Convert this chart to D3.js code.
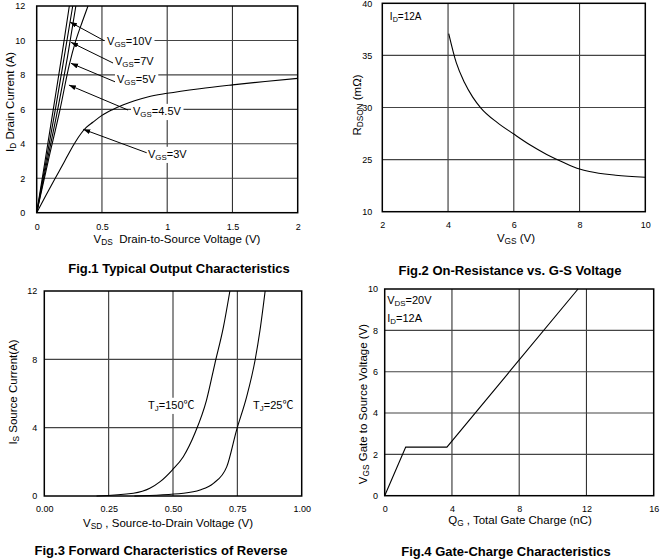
<!DOCTYPE html>
<html><head><meta charset="utf-8">
<script src="https://cdn.jsdelivr.net/npm/d3@7"></script>
<style>
body{margin:0;background:#fff}
svg{display:block}
text{font-family:"Liberation Sans",Arial,"Noto Sans CJK SC",sans-serif;fill:#000}
</style>
</head><body>
<svg id="c" width="666" height="560"></svg>
<script>
// ---------- Fig.1 data ----------
const fig1XTicks = [0, 0.5, 1, 1.5, 2];
const fig1XLabels = ["0", "0.5", "1", "1.5", "2"];
const fig1YTicks = [0, 2, 4, 6, 8, 10, 12];
const fig1Vgs10 = [[0,0],[0.064,3],[0.127,6],[0.19,9],[0.25,12]];
const fig1Vgs7  = [[0,0],[0.072,3],[0.143,6],[0.21,9],[0.276,12]];
const fig1Vgs5  = [[0,0],[0.08,3],[0.161,6],[0.235,9],[0.30,12]];
const fig1Vgs45 = [[0,0],[0.088,3],[0.179,6],[0.25,8.6],[0.30,10],[0.35,11.1],[0.393,12]];
const fig1Vgs3  = [[0,0],[0.07,1],[0.142,2],[0.215,3],[0.25,3.5],[0.30,4.15],[0.34,4.6],[0.38,4.95],[0.43,5.25],[0.5,5.65],[0.58,5.98],[0.66,6.25],[0.75,6.5],[0.85,6.72],[1.0,6.93],[1.25,7.2],[1.5,7.42],[1.75,7.62],[2.0,7.8]];
const fig1Names = ["10V", "7V", "5V", "4.5V", "3V"];
// annotation: arrow tip, arrow tail, text start (data units)
const fig1NoteTip  = [[0.255,11.07],[0.263,9.89],[0.263,8.67],[0.247,7.41],[0.357,4.84]];
const fig1NoteTail = [[0.516,9.99],[0.585,8.69],[0.60,7.6],[0.70,5.96],[0.843,3.48]];
const fig1NoteText = [[0.539,9.97],[0.60,8.82],[0.615,7.76],[0.738,5.9],[0.853,3.41]];

// ---------- Fig.2 data ----------
const fig2XTicks = [2, 4, 6, 8, 10];
const fig2YTicks = [20, 25, 30, 35, 40];
const fig2YLabels = ["10", "25", "30", "35", "40"];
const fig2Vgs  = [4.02, 4.25, 4.5, 4.75, 5.0, 5.5, 6.0, 6.5, 7.0, 7.5, 8.0, 8.3, 9.1, 10];
const fig2Rds  = [37.1, 34.3, 32.4, 31.0, 29.95, 28.55, 27.45, 26.4, 25.5, 24.75, 24.1, 23.85, 23.5, 23.3];

// ---------- Fig.3 data ----------
const fig3XTicks = [0, 0.25, 0.5, 0.75, 1];
const fig3XLabels = ["0.00", "0.25", "0.50", "0.75", "1.00"];
const fig3YTicks = [0, 4, 8, 12];
const fig3T150 = [[0.203,0],[0.346,0.16],[0.41,0.45],[0.45,0.84],[0.497,1.52],[0.54,2.3],[0.585,3.67],[0.63,5.6],[0.663,7.77],[0.696,9.9],[0.721,12]];
const fig3T25  = [[0.35,0],[0.54,0.16],[0.605,0.35],[0.657,0.74],[0.709,1.72],[0.747,3.86],[0.786,5.8],[0.819,7.96],[0.838,9.7],[0.858,12]];

// ---------- Fig.4 data ----------
const fig4XTicks = [0, 4, 8, 12, 16];
const fig4YTicks = [0, 2, 4, 6, 8, 10];
const fig4Qg  = [0, 1.25, 3.7, 11.5];
const fig4Vgs = [0, 2.35, 2.35, 10];

// ---------- helpers ----------
const svg = d3.select("#c");
const defs = svg.append("defs");
defs.append("marker").attr("id","arr").attr("markerUnits","userSpaceOnUse")
  .attr("markerWidth",8).attr("markerHeight",6).attr("refX",7).attr("refY",2.5)
  .attr("orient","auto")
  .append("path").attr("d","M0,0 L7,2.5 L0,5 Z").attr("fill","#000");

// parts: [text, isSub]
function rich(g, parts, x, y, size, anchor) {
  const t = g.append("text").attr("x", x).attr("y", y)
    .attr("font-size", size).attr("text-anchor", anchor || "start")
    .attr("xml:space", "preserve");
  let shifted = false;
  parts.forEach(([s, sub]) => {
    const ts = t.append("tspan").text(s);
    if (sub) { ts.attr("font-size", size * 0.72); if (!shifted) { ts.attr("dy", size*0.2); shifted = true; } }
    else { ts.attr("font-size", size); if (shifted) { ts.attr("dy", -size*0.2); shifted = false; } }
  });
  return t;
}
function bgRect(g, t, pad) {
  const b = t.node().getBBox();
  g.insert("rect", () => t.node()).attr("x", b.x - pad).attr("y", b.y - 1)
    .attr("width", b.width + 2*pad).attr("height", b.height + 2).attr("fill", "#fff");
}

function panel(o) {
  const g = svg.append("g");
  const x = d3.scaleLinear().domain(o.xDom).range(o.xR);
  const y = d3.scaleLinear().domain(o.yDom).range(o.yR);
  g.append("g").selectAll("line").data(o.gx).join("line")
    .attr("x1", d => x(d)).attr("x2", d => x(d)).attr("y1", o.yR[0]).attr("y2", o.yR[1])
    .attr("stroke", "#333").attr("stroke-width", 1.1);
  g.append("g").selectAll("line").data(o.gy).join("line")
    .attr("y1", d => y(d)).attr("y2", d => y(d)).attr("x1", o.xR[0]).attr("x2", o.xR[1])
    .attr("stroke", "#444").attr("stroke-width", 1.1);
  const ax = g.append("g").attr("transform", `translate(0,${o.yR[0]})`)
    .call(d3.axisBottom(x).tickValues(o.xT).tickSize(0).tickPadding(o.xPad)
      .tickFormat((d,i) => o.xL ? o.xL[i] : d));
  const ay = g.append("g").attr("transform", `translate(${o.xR[0]},0)`)
    .call(d3.axisLeft(y).tickValues(o.yT).tickSize(0).tickPadding(o.yPad)
      .tickFormat((d,i) => o.yL ? o.yL[i] : d));
  [ax, ay].forEach(a => {
    a.select(".domain").remove();
    a.selectAll("text").attr("font-size", 9).attr("font-family", "Liberation Sans, Arial, sans-serif").attr("fill", "#000");
  });
  return {g, x, y};
}
function frame(p) {
  const [x0, x1] = p.x.range(), [y0, y1] = p.y.range();
  p.g.append("rect").attr("x", x0).attr("y", y1).attr("width", x1 - x0).attr("height", y0 - y1)
    .attr("fill", "none").attr("stroke", "#000").attr("stroke-width", 1.5);
}
function curve(p, pts, c) {
  p.g.append("path").datum(pts)
    .attr("d", d3.line().x(d => p.x(d[0])).y(d => p.y(d[1])).curve(c || d3.curveMonotoneX))
    .attr("fill", "none").attr("stroke", "#000").attr("stroke-width", 1.1);
}
function rotTitle(parts, cx, cy, size) {
  const g = svg.append("g").attr("transform", `translate(${cx},${cy}) rotate(-90)`);
  rich(g, parts, 0, size * 0.35, size, "middle");
}
function caption(s, cx, cy) {
  svg.append("text").attr("x", cx).attr("y", cy + 4.5).attr("text-anchor", "middle")
    .attr("font-size", 13).attr("font-weight", "bold").text(s);
}

// ---------- Fig.1 ----------
const p1 = panel({xDom:[0,2], xR:[36.7,297.7], yDom:[0,12], yR:[212.7,6],
  gx:[0.5,1,1.5], gy:[2,4,6,8,10], xT:fig1XTicks, xL:fig1XLabels, yT:fig1YTicks,
  xPad:10.5, yPad:11.5});
[fig1Vgs10, fig1Vgs7, fig1Vgs5, fig1Vgs45, fig1Vgs3].forEach(c => curve(p1, c));
frame(p1);
fig1Names.forEach((n, i) => {
  const tip = fig1NoteTip[i], tail = fig1NoteTail[i], tp = fig1NoteText[i];
  const t = rich(p1.g, [["V",0],["GS",1],["="+n,0]], p1.x(tp[0]), p1.y(tp[1]) + 3.8, 11);
  bgRect(p1.g, t, 2);
  p1.g.append("line").attr("x1", p1.x(tail[0])).attr("y1", p1.y(tail[1]))
    .attr("x2", p1.x(tip[0])).attr("y2", p1.y(tip[1]))
    .attr("stroke", "#000").attr("stroke-width", 1).attr("marker-end", "url(#arr)");
});
rich(svg, [["V",0],["DS",1],["  Drain-to-Source Voltage (V)",0]], 177, 243, 11.5, "middle");
rotTitle([["I",0],["D",1],[" Drain Current (A)",0]], 10, 102, 11.5);
caption("Fig.1 Typical Output Characteristics", 179, 268);

// ---------- Fig.2 ----------
const p2 = panel({xDom:[2,10], xR:[382.3,645.3], yDom:[20,40], yR:[211.7,3.3],
  gx:[4,6,8], gy:[25,30,35], xT:fig2XTicks, yT:fig2YTicks, yL:fig2YLabels,
  xPad:10, yPad:10});
curve(p2, fig2Vgs.map((v, i) => [v, fig2Rds[i]]));
frame(p2);
rich(p2.g, [["I",0],["D",1],["=12A",0]], p2.x(2.23), p2.y(38.7) + 3.5, 10);
rich(svg, [["V",0],["GS",1],[" (V)",0]], 516, 242, 11.5, "middle");
rotTitle([["R",0],["DSON",1],[" (m\u03A9)",0]], 357, 105, 11.5);
caption("Fig.2 On-Resistance vs. G-S Voltage", 510, 270);

// ---------- Fig.3 ----------
const p3 = panel({xDom:[0,1], xR:[44.3,301.7], yDom:[0,12], yR:[496,291],
  gx:[0.25,0.5,0.75], gy:[4,8], xT:fig3XTicks, xL:fig3XLabels, yT:fig3YTicks,
  xPad:9.8, yPad:7});
curve(p3, fig3T150);
curve(p3, fig3T25);
frame(p3);
const t150 = rich(p3.g, [["T",0],["J",1],["=150\u2103",0]], p3.x(0.403), p3.y(5.33) + 3.8, 11);
bgRect(p3.g, t150, 2);
const t25 = rich(p3.g, [["T",0],["J",1],["=25\u2103",0]], p3.x(0.811), p3.y(5.33) + 3.8, 11);
bgRect(p3.g, t25, 2);
rich(svg, [["V",0],["SD",1],[" , Source-to-Drain Voltage (V)",0]], 168, 527, 11.5, "middle");
rotTitle([["I",0],["S",1],[" Source Current(A)",0]], 13, 392, 11.5);
caption("Fig.3 Forward Characteristics of Reverse", 161, 550);

// ---------- Fig.4 ----------
const p4 = panel({xDom:[0,16], xR:[384.7,653.7], yDom:[0,10], yR:[495.7,289],
  gx:[4,8,12], gy:[2,4,6,8], xT:fig4XTicks, yT:fig4YTicks,
  xPad:10, yPad:6.7});
curve(p4, fig4Qg.map((q, i) => [q, fig4Vgs[i]]), d3.curveLinear);
frame(p4);
rich(p4.g, [["V",0],["DS",1],["=20V",0]], p4.x(0.15), p4.y(9.47) + 3.8, 11);
rich(p4.g, [["I",0],["D",1],["=12A",0]], p4.x(0.15), p4.y(8.6) + 3.8, 11);
rich(svg, [["Q",0],["G",1],[" , Total Gate Charge (nC)",0]], 520, 524, 11.5, "middle");
rotTitle([["V",0],["GS",1],[" Gate to Source Voltage (V)",0]], 363, 404, 11.5);
caption("Fig.4 Gate-Charge Characteristics", 506, 551);
</script>
</body></html>
